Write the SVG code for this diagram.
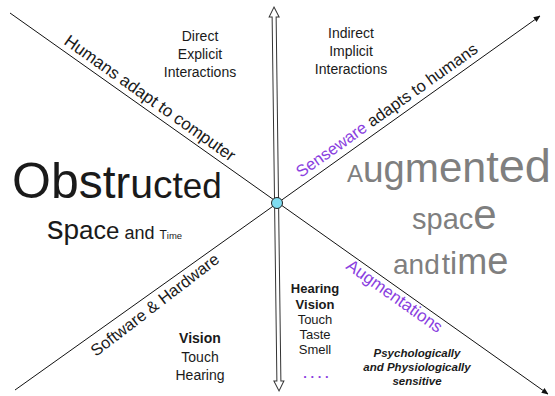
<svg xmlns="http://www.w3.org/2000/svg" width="555" height="396" viewBox="0 0 555 396">
<style>
text{font-family:"Liberation Sans",Arial,Helvetica,sans-serif;fill:#1a1a1a}
.m{text-anchor:middle;font-size:14px}
.c{text-anchor:middle;font-size:13px}
.b{font-weight:bold}
.g{fill:#7f7f7f}
.p{fill:#8a3fe0}
.i{text-anchor:middle;font-size:11.5px;font-weight:bold;font-style:italic}
.ax{stroke:#111;stroke-width:1;fill:none}
</style>
<defs>
<marker id="ah" viewBox="0 0 10 10" refX="9" refY="5" markerWidth="7" markerHeight="7" markerUnits="userSpaceOnUse" orient="auto">
<path d="M0,1 L10,5 L0,9 Z" fill="#111"/>
</marker>
</defs>
<g id="connectors">
<line class="ax" x1="10" y1="13" x2="548" y2="394" marker-end="url(#ah)"/>
<line class="ax" x1="15" y1="390" x2="540" y2="16" marker-end="url(#ah)"/>
<path transform="translate(274,7) rotate(-0.75)" d="M0,0 L5,10 L2,10 L2,374 L5,374 L0,384 L-5,374 L-2,374 L-2,10 L-5,10 Z" fill="#fff" stroke="#333" stroke-width="1"/>
</g>
<g id="center">
<circle cx="277" cy="203" r="5.5" fill="#7fdcf0" stroke="#222" stroke-width="1"/>
</g>
<g id="label-humans">
<text transform="translate(63,43.5) rotate(35.3)" font-size="17">Humans adapt to computer</text>
</g>
<g id="label-senseware">
<text transform="translate(301,178) rotate(-35.4)" font-size="16.5"><tspan class="p">Senseware</tspan> adapts to humans</text>
</g>
<g id="label-software">
<text transform="translate(96,357) rotate(-37.5)" font-size="16.5">Software &amp; Hardware</text>
</g>
<g id="label-augmentations">
<text class="p" transform="translate(345,268) rotate(35.3)" font-size="17">Augmentations</text>
</g>
<g id="direct">
<text class="m" x="200" y="41">Direct</text>
<text class="m" x="200" y="59">Explicit</text>
<text class="m" x="200" y="77">Interactions</text>
</g>
<g id="indirect">
<text class="m" x="351" y="38">Indirect</text>
<text class="m" x="351" y="56">Implicit</text>
<text class="m" x="351" y="74">Interactions</text>
</g>
<g id="obstructed">
<text x="12" y="198"><tspan font-size="50">O</tspan><tspan font-size="50">b</tspan><tspan font-size="48">s</tspan><tspan font-size="46">t</tspan><tspan font-size="44">r</tspan><tspan font-size="41">u</tspan><tspan font-size="39">c</tspan><tspan font-size="37">t</tspan><tspan font-size="35">e</tspan><tspan font-size="35">d</tspan></text>
<text x="47" y="239"><tspan font-size="33">s</tspan><tspan font-size="28">p</tspan><tspan font-size="26">a</tspan><tspan font-size="25">c</tspan><tspan font-size="24">e</tspan><tspan font-size="18"> and </tspan><tspan font-size="12">T</tspan><tspan font-size="9.5">ime</tspan></text>
</g>
<g id="augmented">
<text class="g" x="347" y="182"><tspan font-size="24">A</tspan><tspan font-size="37">u</tspan><tspan font-size="38">g</tspan><tspan font-size="41">m</tspan><tspan font-size="42">e</tspan><tspan font-size="43">n</tspan><tspan font-size="45">t</tspan><tspan font-size="47">e</tspan><tspan font-size="47">d</tspan></text>
<text class="g" x="412" y="229"><tspan font-size="29">spac</tspan><tspan font-size="42">e</tspan></text>
<text class="g" x="393" y="274"><tspan font-size="28">and</tspan><tspan font-size="30" dx="2">t</tspan><tspan font-size="32">i</tspan><tspan font-size="36">m</tspan><tspan font-size="38">e</tspan></text>
</g>
<g id="senses-left">
<text class="m b" x="200" y="343" font-size="14.5">Vision</text>
<text class="m" x="200" y="362" font-size="14.5">Touch</text>
<text class="m" x="200" y="380" font-size="14.5">Hearing</text>
</g>
<g id="senses-center">
<text class="c b" x="315" y="293">Hearing</text>
<text class="c b" x="315" y="309">Vision</text>
<text class="c" x="315" y="324">Touch</text>
<text class="c" x="315" y="339">Taste</text>
<text class="c" x="315" y="354">Smell</text>
<text class="c p b" x="316" y="378" font-size="14">. . . .</text>
</g>
<g id="sensitive">
<text class="i" x="417" y="357">Psychologically</text>
<text class="i" x="417" y="371">and Physiologically</text>
<text class="i" x="417" y="385">sensitive</text>
</g>
</svg>
